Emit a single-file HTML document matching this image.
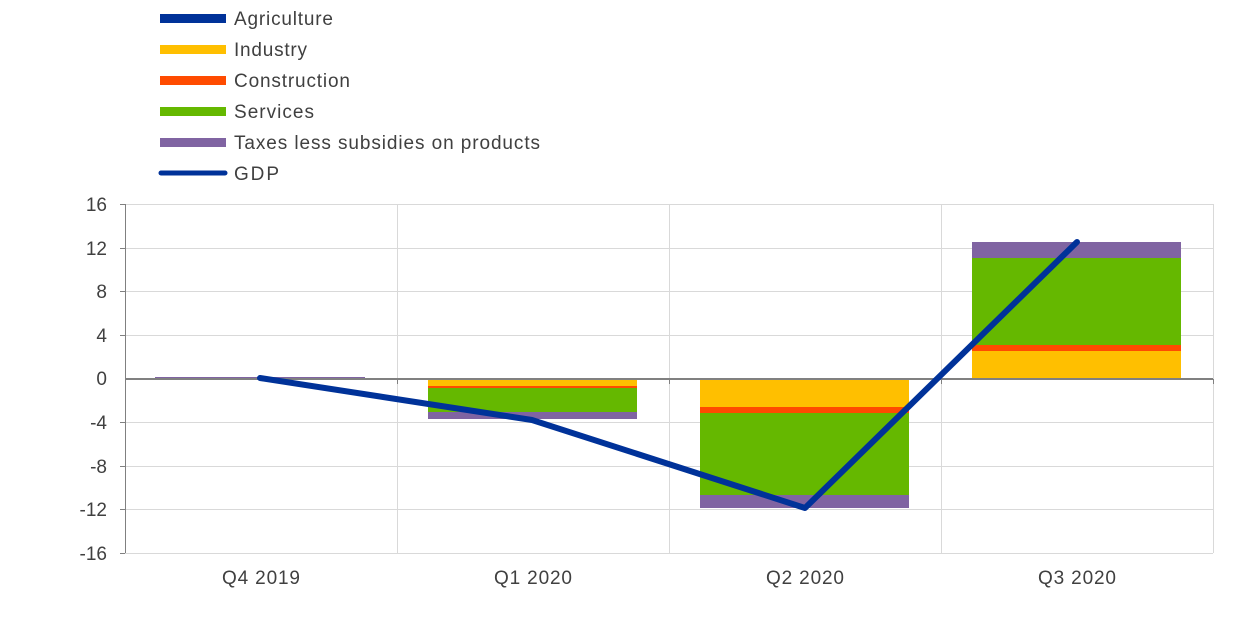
<!DOCTYPE html>
<html><head><style>body{margin:0;background:#fff}</style></head><body>
<svg width="1240" height="619" xmlns="http://www.w3.org/2000/svg" font-family="Liberation Sans, Arial, sans-serif" font-size="19" fill="#404040">
<g stroke="#d9d9d9" stroke-width="1">
<line x1="125" y1="204.5" x2="1213" y2="204.5"/><line x1="125" y1="248.5" x2="1213" y2="248.5"/><line x1="125" y1="291.5" x2="1213" y2="291.5"/><line x1="125" y1="335.5" x2="1213" y2="335.5"/><line x1="125" y1="422.5" x2="1213" y2="422.5"/><line x1="125" y1="466.5" x2="1213" y2="466.5"/><line x1="125" y1="509.5" x2="1213" y2="509.5"/><line x1="125" y1="553.5" x2="1213" y2="553.5"/>
<line x1="397.5" y1="204" x2="397.5" y2="553"/><line x1="669.5" y1="204" x2="669.5" y2="553"/><line x1="941.5" y1="204" x2="941.5" y2="553"/><line x1="1213.5" y1="204" x2="1213.5" y2="553"/>
</g>
<line x1="125.5" y1="204" x2="125.5" y2="553" stroke="#808080"/>
<g stroke="#808080"><line x1="120" y1="204.5" x2="125" y2="204.5"/><line x1="120" y1="248.5" x2="125" y2="248.5"/><line x1="120" y1="291.5" x2="125" y2="291.5"/><line x1="120" y1="335.5" x2="125" y2="335.5"/><line x1="120" y1="422.5" x2="125" y2="422.5"/><line x1="120" y1="466.5" x2="125" y2="466.5"/><line x1="120" y1="509.5" x2="125" y2="509.5"/><line x1="120" y1="553.5" x2="125" y2="553.5"/></g>
<rect x="155" y="377" width="210" height="2" fill="#8064a2"/>
<rect x="428" y="379" width="209" height="7" fill="#ffbf00"/><rect x="428" y="386" width="209" height="2" fill="#ff4b00"/><rect x="428" y="388" width="209" height="24" fill="#65b800"/><rect x="428" y="412" width="209" height="7" fill="#8064a2"/>
<rect x="700" y="379" width="209" height="28" fill="#ffbf00"/><rect x="700" y="407" width="209" height="6" fill="#ff4b00"/><rect x="700" y="413" width="209" height="82" fill="#65b800"/><rect x="700" y="495" width="209" height="13" fill="#8064a2"/>
<rect x="972" y="242" width="209" height="16" fill="#8064a2"/><rect x="972" y="258" width="209" height="87" fill="#65b800"/><rect x="972" y="345" width="209" height="6" fill="#ff4b00"/><rect x="972" y="351" width="209" height="27" fill="#ffbf00"/>
<line x1="125" y1="379" x2="1213" y2="379" stroke="#808080" stroke-width="2"/>
<g stroke="#808080"><line x1="125.5" y1="379" x2="125.5" y2="384"/><line x1="397.5" y1="379" x2="397.5" y2="384"/><line x1="669.5" y1="379" x2="669.5" y2="384"/><line x1="941.5" y1="379" x2="941.5" y2="384"/><line x1="1213.5" y1="379" x2="1213.5" y2="384"/></g>
<polyline points="260,378 532,420 805,508 1077,242" fill="none" stroke="#003299" stroke-width="6" stroke-linecap="round" stroke-linejoin="round"/>
<g text-anchor="end"><text x="107" y="211">16</text><text x="107" y="255">12</text><text x="107" y="298">8</text><text x="107" y="342">4</text><text x="107" y="385">0</text><text x="107" y="429">-4</text><text x="107" y="473">-8</text><text x="107" y="516">-12</text><text x="107" y="560">-16</text></g>
<g><text x="222" y="584" textLength="78">Q4 2019</text><text x="494" y="584" textLength="78">Q1 2020</text><text x="766" y="584" textLength="78">Q2 2020</text><text x="1038" y="584" textLength="78">Q3 2020</text></g>
<rect x="160" y="14" width="66" height="9" fill="#003299"/><text x="234" y="25" textLength="99">Agriculture</text>
<rect x="160" y="45" width="66" height="9" fill="#ffbf00"/><text x="234" y="56" textLength="73">Industry</text>
<rect x="160" y="76" width="66" height="9" fill="#ff4b00"/><text x="234" y="87" textLength="116">Construction</text>
<rect x="160" y="107" width="66" height="9" fill="#65b800"/><text x="234" y="118" textLength="80">Services</text>
<rect x="160" y="138" width="66" height="9" fill="#8064a2"/><text x="234" y="149" textLength="306">Taxes less subsidies on products</text>
<line x1="161" y1="173" x2="225" y2="173" stroke="#003299" stroke-width="5" stroke-linecap="round"/><text x="234" y="180" textLength="45">GDP</text>
</svg>
</body></html>
